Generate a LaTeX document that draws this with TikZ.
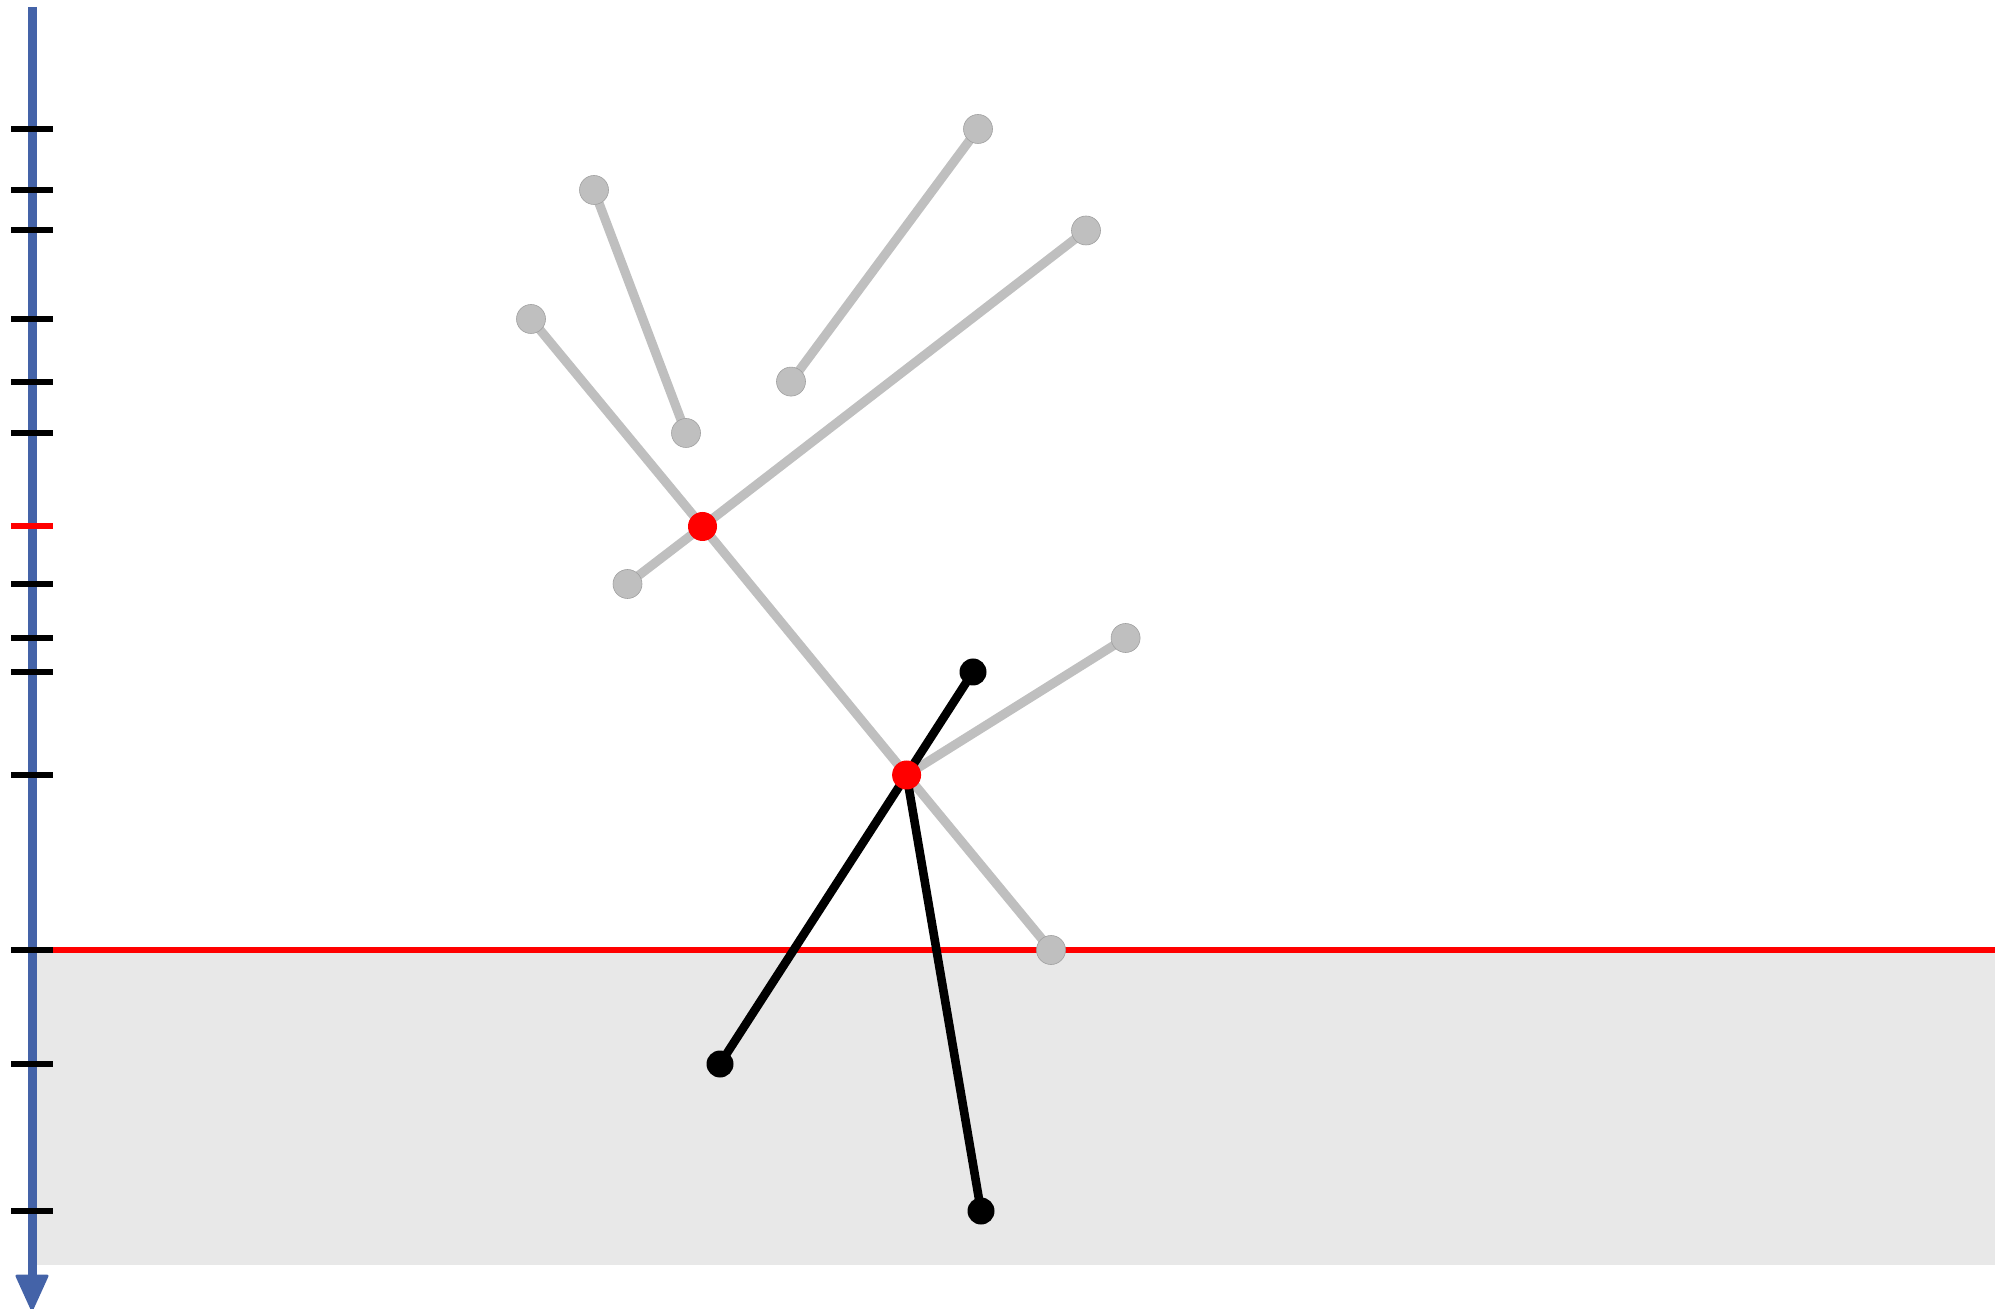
\documentclass[tikz,border=0pt]{standalone}
\definecolor{axisblue}{RGB}{68,99,168}
\definecolor{lgray}{RGB}{191,191,191}
\definecolor{dgray}{RGB}{160,160,160}
\definecolor{bggray}{RGB}{232,232,232}
\begin{document}
\begin{tikzpicture}[x=0.5pt,y=-0.5pt,
  gnode/.style={circle,fill=lgray,draw=dgray,line width=0.3pt,minimum size=14.5pt,inner sep=0pt},
  rnode/.style={circle,fill=red,draw=none,minimum size=14.5pt,inner sep=0pt},
  bnode/.style={circle,fill=black,draw=none,minimum size=13.5pt,inner sep=0pt},
  gedge/.style={draw=lgray,line width=4.6pt},
  bedge/.style={draw=black,line width=4.3pt},
  tickmark/.style={line width=3pt}]
\useasboundingbox (0,0) rectangle (2008,1309);
% ground region
\fill[bggray] (37,950) rectangle (1995,1265);
\draw[red,line width=3pt] (32,950) -- (1995,950);
% axis
\coordinate (atop) at (32,7);
\coordinate (abot) at (32,1279);
\coordinate (tipl) at (17,1276);
\coordinate (tipr) at (47,1276);
\coordinate (tip) at (32,1309);
\draw[axisblue,line width=4.5pt] (atop) -- (abot);
\fill[axisblue,draw=axisblue,line width=1.5pt,line join=round] (tipl) -- (tipr) -- (tip) -- cycle;
% ticks
\foreach \y in {129,190,230.5,319,381.6,433,584,638,672,775,950,1064,1211}
  \draw[tickmark,black] (11,\y) -- (53,\y);
\draw[tickmark,red] (11,526.5) -- (53,526.5);
% node positions
\coordinate (g1) at (978,129);
\coordinate (g2) at (594,190);
\coordinate (g3) at (1086,230.5);
\coordinate (g4) at (531,319);
\coordinate (g5) at (791,381.6);
\coordinate (g6) at (686,433);
\coordinate (g7) at (627.5,584);
\coordinate (g8) at (1125.6,638);
\coordinate (g9) at (1051,950);
\coordinate (r1) at (702.5,526.5);
\coordinate (r2) at (906.6,775);
\coordinate (b1) at (973,672);
\coordinate (b2) at (720,1064);
\coordinate (b3) at (981,1211);
% gray edges
\draw[gedge] (g1) -- (g5);
\draw[gedge] (g2) -- (g6);
\draw[gedge] (g3) -- (r1);
\draw[gedge] (r1) -- (g7);
\draw[gedge] (g4) -- (r1);
\draw[gedge] (r1) -- (r2);
\draw[gedge] (r2) -- (g9);
\draw[gedge] (r2) -- (g8);
% black edges
\draw[bedge] (r2) -- (b1);
\draw[bedge] (r2) -- (b2);
\draw[bedge] (r2) -- (b3);
% nodes
\foreach \n in {g1,g2,g3,g4,g5,g6,g7,g8,g9}
  \node[gnode] (n\n) at (\n) {};
\foreach \n in {b1,b2,b3}
  \node[bnode] (n\n) at (\n) {};
\foreach \n in {r1,r2}
  \node[rnode] (n\n) at (\n) {};
\end{tikzpicture}
\end{document}
